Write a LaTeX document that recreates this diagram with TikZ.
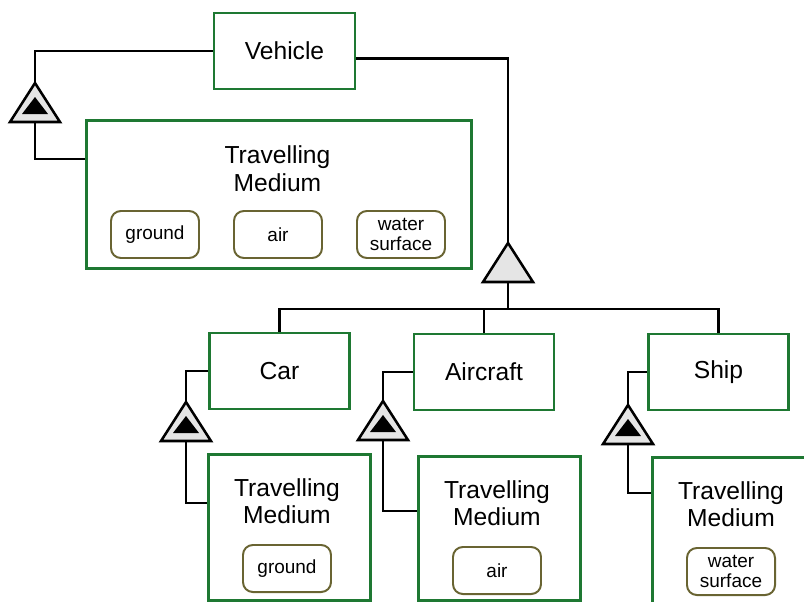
\documentclass[tikz,border=0pt]{standalone}
\usepackage{fontspec}
\setmainfont{Liberation Sans}
\usetikzlibrary{positioning}
\definecolor{ClassGreen}{RGB}{30,120,50}
\definecolor{ValOlive}{RGB}{105,100,50}
\newcommand{\clsfont}{\fontsize{17.5}{19.5}\selectfont}
\newcommand{\valfont}{\fontsize{13.5}{14.5}\selectfont}
\tikzset{
  cls/.style={draw=ClassGreen, line width=2.1pt, minimum width=3.5cm,
    minimum height=1.9cm, font=\clsfont},
  medbox/.style={draw=ClassGreen, line width=2.1pt, anchor=north west,
    inner sep=0pt},
  title/.style={align=center, font=\clsfont},
  val/.style={draw=ValOlive, line width=1.4pt, rounded corners=7pt,
    minimum width=2.2cm, minimum height=1.175cm, align=center,
    font=\valfont, inner sep=1pt},
  link/.style={line width=2.1pt},
  gen/.pic={
    \draw[line width=1.8pt, fill=gray!20] (0,0) -- (25,39) -- (-25,39) -- cycle;
    \coordinate (-top) at (0,0);
    \coordinate (-bot) at (0,39);
  },
  aggr/.pic={
    \draw[line width=1.8pt, fill=gray!20] (0,0) -- (25,39) -- (-25,39) -- cycle;
    \fill (0,14) -- (13,31) -- (-13,31) -- cycle;
    \coordinate (-top) at (0,0);
    \coordinate (-bot) at (0,39);
  }
}

\begin{document}
\begin{tikzpicture}[x=0.025cm, y=-0.025cm]
\useasboundingbox (0,0) rectangle (804,601);

\node[cls, minimum width=3.525cm] (veh) at (284.5,51) {Vehicle};
\pic (veh-tri) at (35,83) {aggr};
\node[medbox, minimum width=9.625cm, minimum height=3.7cm] (vehm) at (85,119) {};
\node[title] (vehh) at (277.5,168.5) {Travelling\\Medium};
\foreach \v/\x in {ground/155, air/278, {water\\surface}/401}
  \node[val] at (\x,234.5) {\v};
\coordinate (vehj) at (85,159);
\draw[link] (veh.west) -| (veh-tri-top);
\draw[link] (veh-tri-bot) |- (vehj);

\pic (gen) at (508,243) {gen};
\coordinate (bus) at (508,309);
\draw[link] ([yshift=-5pt]veh.east) -| (gen-top);
\draw[link] (gen-bot) -- (bus);

\foreach \n/\lab/\cx/\cy/\tx/\ta/\mx/\my/\mh/\ly/\val in {
  car/Car/279.5/371/186/402/207/453/146/503/ground,
  aircraft/Aircraft/484/372/383/401/417/455/144/511/air,
  ship/Ship/718.5/372/628/405/651/456/150/493/{water\\surface}}{
  \node[cls] (\n) at (\cx,\cy) {\lab};
  \pic (\n-tri) at (\tx,\ta) {aggr};
  \node[medbox, minimum width=4.05cm, minimum height=\mh*0.025cm] (\n m) at (\mx,\my) {};
  \node[title] (\n h) at (\mx+80,\my+48) {Travelling\\Medium};
  \node[val] (\n v) at (\mx+80,\my+115.5) {\val};
  \coordinate (\n j) at (\mx,\ly);
  \draw[link] (\n.west) -| (\n-tri-top);
  \draw[link] (\n-tri-bot) |- (\n j);
}

\draw[link] (car.north) |- (bus) -| (ship.north);
\draw[link] (aircraft.north) -- (aircraft.north |- bus);
\end{tikzpicture}
\end{document}
